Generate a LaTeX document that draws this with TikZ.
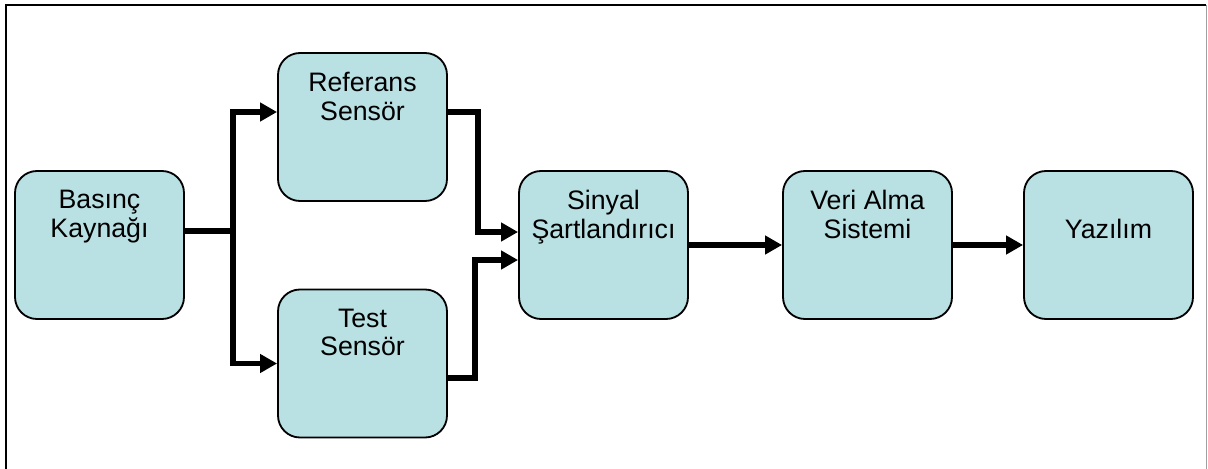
\documentclass[tikz,border=0pt]{standalone}
\usepackage{fontspec}
\setmainfont{Liberation Sans}
\usetikzlibrary{arrows.meta}
\definecolor{boxblue}{RGB}{185,224,227}
\definecolor{framegray}{RGB}{160,160,160}

\begin{document}
\begin{tikzpicture}[node distance=6.6cm, every node/.style={font=\fontsize{19pt}{20.3pt}\selectfont}]
    \tikzstyle{block} = [rectangle, draw, line width=1.3pt, fill=boxblue, rounded corners=0.55cm, minimum width=4.225cm, minimum height=3.7cm, inner sep=0pt]
    \tikzstyle{lbl} = [anchor=north, yshift=-0.5cm, align=center, inner sep=0pt]
    \tikzstyle{flow} = [line width=0.14cm, -{Triangle[length=0.425cm, width=0.45cm]}]
    \useasboundingbox (0,0) rectangle (30.2,-11.725);
    % outer frame, open at the bottom
    \draw [line width=1.5pt] (30.16,-0.1325) -- (0.15,-0.1325) -- (0.15,-11.8);
    \draw [framegray, line width=0.7pt] (30.16,-0.1325) -- (30.16,-11.8);

    \node (source) [block, label={[lbl]north:Basınç\\Kaynağı}] at (2.4875,-6.125) {};
    \node (refsensor) [block, node distance=6.575cm, right of=source, yshift=2.95cm, label={[lbl]north:Referans\\Sensör}] {};
    \node (testsensor) [block, node distance=6.575cm, right of=source, yshift=-2.9625cm, label={[lbl]north:Test\\Sensör}] {};
    \node (signal) [block, node distance=12.6cm, right of=source, label={[lbl]north:Sinyal\\Şartlandırıcı}] {};
    \node (daq) [block, right of=signal, label={[lbl]north:Veri Alma\\Sistemi}] {};
    \node (software) [block, node distance=6.025cm, right of=daq, label={[lbl, yshift=-0.7125cm]north:Yazılım}] {};

    % split of the pressure line
    \draw [line width=0.14cm] ([yshift=0.35cm]source.east) -- ++(1.2,0) coordinate (split);
    \draw [flow] (split) |- ([yshift=0.375cm]refsensor.west);
    \draw [flow] (split) |- (testsensor.west);
    \draw [flow] ([yshift=0.375cm]refsensor.east) -- ++(0.75,0) |- ([yshift=0.325cm]signal.west);
    \draw [flow] ([yshift=-0.3625cm]testsensor.east) -- ++(0.675,0) |- ([yshift=-0.375cm]signal.west);
    \draw [flow] (signal) -- (daq);
    \draw [flow] (daq) -- (software);

\end{tikzpicture}
\end{document}
